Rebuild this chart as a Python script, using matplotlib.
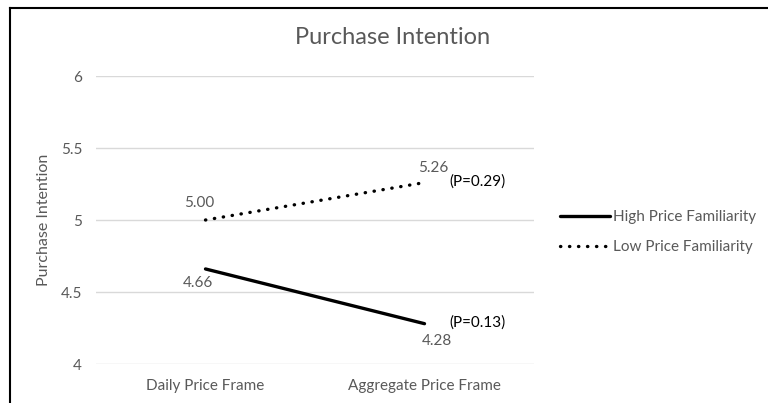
import matplotlib
matplotlib.use("Agg")
import matplotlib.pyplot as plt
from matplotlib.lines import Line2D

plt.rcParams['font.family'] = ['Lato', 'DejaVu Sans']

categories = ["Daily Price Frame", "Aggregate Price Frame"]
high_familiarity = [4.66, 4.28]
low_familiarity = [5.00, 5.26]
series_names = ["High Price Familiarity", "Low Price Familiarity"]
p_values = ["(P=0.13)", "(P=0.29)"]
y_ticks = [4, 4.5, 5, 5.5, 6]
y_tick_labels = ["4", "4.5", "5", "5.5", "6"]

W, H = 768, 403
fig = plt.figure(figsize=(W / 100, H / 100), dpi=100)
ax = fig.add_axes([96 / W, 39 / H, 438 / W, 288 / H])

gray = "#595959"
x = list(range(len(categories)))

ax.plot(x, high_familiarity, color="black", lw=2.4, solid_capstyle="round",
        label=series_names[0])
ax.plot(x, low_familiarity, color="black", lw=2.4, linestyle=(0, (0.1, 2.6)),
        dash_capstyle="round", label=series_names[1])

ax.set_xlim(-0.5, len(categories) - 0.5)
ax.set_ylim(4, 6)
ax.set_yticks(y_ticks)
ax.set_yticklabels(y_tick_labels)
ax.set_xticks(x)
ax.set_xticklabels(categories)
ax.tick_params(axis="both", length=0, colors=gray, labelsize=11)
ax.tick_params(axis="y", pad=10)
ax.tick_params(axis="x", pad=11)
for s in ax.spines.values():
    s.set_visible(False)
ax.yaxis.grid(True, color="#d9d9d9", lw=1)
ax.set_axisbelow(True)

ax.set_ylabel("Purchase Intention", color=gray, fontsize=11.5, labelpad=7)
fig.text(393 / W, 1 - 38 / H, "Purchase Intention", color=gray, fontsize=17,
         ha="center", va="center")

# value labels
lab = dict(textcoords="offset pixels", color=gray, fontsize=11, ha="center", va="center")
ax.annotate(f"{low_familiarity[0]:.2f}", (0, low_familiarity[0]), xytext=(-6, 17), **lab)
ax.annotate(f"{high_familiarity[0]:.2f}", (0, high_familiarity[0]), xytext=(-8, -14), **lab)
ax.annotate(f"{low_familiarity[1]:.2f}", (1, low_familiarity[1]), xytext=(9, 15), **lab)
ax.annotate(f"{high_familiarity[1]:.2f}", (1, high_familiarity[1]), xytext=(12, -17), **lab)

plab = dict(textcoords="offset pixels", color="black", fontsize=11, ha="left", va="center")
ax.annotate(p_values[1], (1, low_familiarity[1]), xytext=(25, 1), **plab)
ax.annotate(p_values[0], (1, high_familiarity[1]), xytext=(25, 1), **plab)

leg = fig.legend(loc="center left", bbox_to_anchor=(560 / W, 1 - 232 / H),
                 frameon=False, fontsize=11, handlelength=3.3, handletextpad=0.15,
                 labelspacing=1.05, borderaxespad=0, borderpad=0)
for t in leg.get_texts():
    t.set_color(gray)

# chart frame
fig.add_artist(Line2D([10 / W, 10 / W], [0, 1 - 8 / H], color="black", lw=1.5,
                      transform=fig.transFigure))
fig.add_artist(Line2D([10 / W, 1], [1 - 8 / H, 1 - 8 / H], color="black", lw=1.5,
                      transform=fig.transFigure))

fig.savefig("out.png", dpi=100, facecolor="white")
